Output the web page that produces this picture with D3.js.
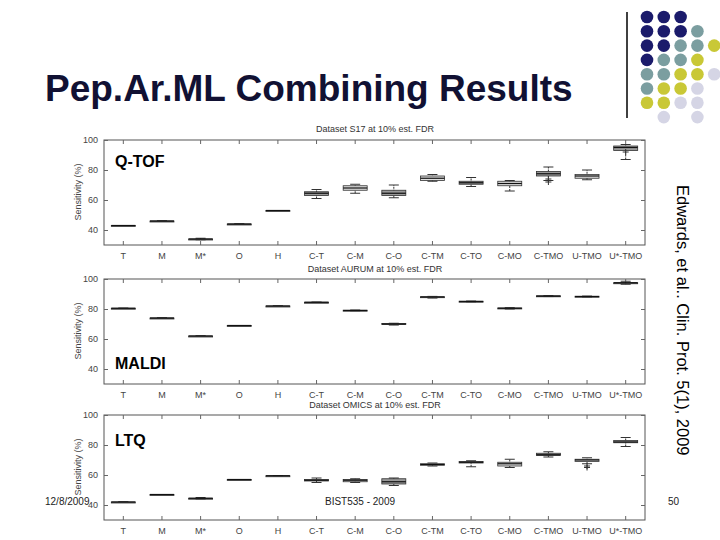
<!DOCTYPE html><html><head><meta charset="utf-8"><script src="https://d3js.org/d3.v7.min.js"></script>
<style>body{margin:0;background:#fff}svg{display:block}text{font-family:"Liberation Sans",Arial,sans-serif}</style></head><body>
<svg id="c" width="720" height="540"></svg>
<script>
const categories=["T","M","M*","O","H","C-T","C-M","C-O","C-TM","C-TO","C-MO","C-TMO","U-TMO","U*-TMO"];
const yTicks=[40,60,80,100];
const panelTitles=["Dataset S17 at 10% est. FDR","Dataset AURUM at 10% est. FDR","Dataset OMICS at 10% est. FDR"];
const panelLabels=["Q-TOF","MALDI","LTQ"];
// [min,q1,median,q3,max]
const qtof=[[43,43,43,43,43],[46,46,46,46,46],[33.5,34,34,34,34.5],[44,44,44,44,44],[53,53,53,53,53],
 [61,63,64.5,65.5,67],[64.5,66.5,68,69.5,70.5],[61.5,63,64.5,66.5,70],[72.5,73,74.5,76,77],[69,70.5,71.5,72.5,75],
 [66,69.5,71,72.5,73],[73,76,77.5,79,82],[73.5,74.5,76,77,80],[87,93,95,96,97]];
const qtofOut=[[],[],[],[],[],[],[],[],[],[],[],[72,74],[],[92]];
const maldi=[[80.5,80.5,80.5,80.5,80.5],[74,74,74,74,74],[62,62,62,62,62],[69,69,69,69,69],[82,82,82,82,82],
 [84.5,84.5,84.5,84.5,84.5],[78.8,79,79,79.2,79.3],[69.3,69.6,70,70.3,70.5],[87.3,87.6,88,88.2,88.4],[84.8,85,85,85.2,85.3],
 [80,80.3,80.5,80.7,80.9],[88.3,88.5,88.6,88.8,89],[88,88.2,88.3,88.5,88.6],[96.5,97.5,97.5,97.5,98.5]];
const maldiOut=[[],[],[],[],[],[],[],[],[],[],[],[],[],[]];
const ltq=[[42,42,42,42,42],[47,47,47,47,47],[44,44.5,44.5,44.5,45],[57,57,57,57,57],[59.5,59.5,59.5,59.5,59.5],
 [55,56,56.5,57,58],[55,55.5,56.5,57,57.5],[53,54,55.5,57.5,58],[66,66.5,67,67.5,68],[65.5,68,68.5,69,69.5],
 [65,66,67.5,68.5,70.5],[72,73,73.5,74.5,75.5],[67.5,69,70,70.5,71.5],[79,81.5,82,83,85]];
const ltqOut=[[],[],[],[],[],[],[],[],[],[],[],[],[65,66],[]];
const panels=[{d:qtof,o:qtofOut,top:140,title:129,lab:[115,167]},{d:maldi,o:maldiOut,top:279,title:269,lab:[115,369]},{d:ltq,o:ltqOut,top:415,title:405,lab:[115,446]}];

const svg=d3.select("#c");
svg.append("text").attr("x",45).attr("y",101).attr("font-size",37).attr("font-weight","bold").attr("fill","#111133").text("Pep.Ar.ML Combining Results");
svg.append("line").attr("x1",627).attr("x2",627).attr("y1",12).attr("y2",118).attr("stroke","#000").attr("stroke-width",1.5);
const N="#1b1b6b",T="#7b9ea0",Y="#c9c836",L="#d5d5e5";
const dots=[[N,N,N,0,0],[N,N,N,T,0],[N,N,T,T,Y],[N,T,T,Y,0],[T,T,Y,Y,L],[T,Y,Y,L,0],[Y,Y,L,L,0],[0,L,0,L,0]];
dots.forEach((r,i)=>r.forEach((c,j)=>{if(c)svg.append("circle").attr("cx",647+j*16.8).attr("cy",17+i*14.3).attr("r",6.3).attr("fill",c);}));

const x=d3.scaleBand().domain(categories).range([104,645]);
panels.forEach((p,pi)=>{
  const y=d3.scaleLinear().domain([30,100]).range([p.top+105,p.top]);
  const g=svg.append("g");
  g.append("rect").attr("x",104).attr("y",p.top).attr("width",541).attr("height",105).attr("fill","none").attr("stroke","#555");
  g.append("g").attr("transform",`translate(0,${p.top+105})`).call(d3.axisBottom(x).tickSize(-4).tickPadding(8))
    .call(a=>{a.select(".domain").remove();a.selectAll("text").attr("font-size",9).attr("fill","#444");a.selectAll("line").attr("stroke","#666");});
  g.append("g").attr("transform",`translate(0,${p.top})`).call(d3.axisTop(x).tickSize(-4).tickFormat(""))
    .call(a=>{a.select(".domain").remove();a.selectAll("line").attr("stroke","#666");});
  g.append("g").attr("transform","translate(104,0)").call(d3.axisLeft(y).tickValues(yTicks).tickSize(-4).tickPadding(6))
    .call(a=>{a.select(".domain").remove();a.selectAll("text").attr("font-size",9).attr("fill","#444");a.selectAll("line").attr("stroke","#666");});
  g.append("g").attr("transform","translate(645,0)").call(d3.axisRight(y).tickValues(yTicks).tickSize(-4).tickFormat(""))
    .call(a=>{a.select(".domain").remove();a.selectAll("line").attr("stroke","#666");});
  g.append("text").attr("x",375).attr("y",p.title+3).attr("text-anchor","middle").attr("font-size",9).attr("fill","#333").text(panelTitles[pi]);
  g.append("text").attr("transform",`translate(81,${p.top+52}) rotate(-90)`).attr("text-anchor","middle").attr("font-size",9).attr("fill","#444").text("Sensitivity (%)");
  p.d.forEach((b,i)=>{
    const cx=x(categories[i])+x.bandwidth()/2, w=24;
    g.append("line").attr("x1",cx).attr("x2",cx).attr("y1",y(b[0])).attr("y2",y(b[4])).attr("stroke","#333").attr("stroke-dasharray",b[4]-b[0]>1?"2,1":null);
    [b[0],b[4]].forEach(v=>g.append("line").attr("x1",cx-5).attr("x2",cx+5).attr("y1",y(v)).attr("y2",y(v)).attr("stroke","#333"));
    g.append("rect").attr("x",cx-w/2).attr("y",y(b[3])).attr("width",w).attr("height",Math.max(1,y(b[1])-y(b[3]))).attr("fill",i%2?"#999":"#ddd").attr("stroke","#333").attr("stroke-width",0.8);
    g.append("line").attr("x1",cx-w/2).attr("x2",cx+w/2).attr("y1",y(b[2])).attr("y2",y(b[2])).attr("stroke","#111").attr("stroke-width",1.2);
    p.o[i].forEach(v=>g.append("path").attr("d",`M${cx-3},${y(v)}h6M${cx},${y(v)-3}v6`).attr("stroke","#333"));
  });
  g.append("text").attr("x",p.lab[0]).attr("y",p.lab[1]).attr("font-size",16).attr("font-weight","bold").text(panelLabels[pi]);
});
svg.append("text").attr("transform","translate(677,185) rotate(90)").attr("font-size",16.5).text("Edwards, et al.. Clin. Prot. 5(1), 2009");
svg.append("text").attr("x",45).attr("y",505).attr("font-size",10).attr("fill","#222").text("12/8/2009");
svg.append("text").attr("x",325).attr("y",505).attr("font-size",10).attr("fill","#222").text("BIST535 - 2009");
svg.append("text").attr("x",668).attr("y",505).attr("font-size",10).attr("fill","#222").text("50");
</script></body></html>
